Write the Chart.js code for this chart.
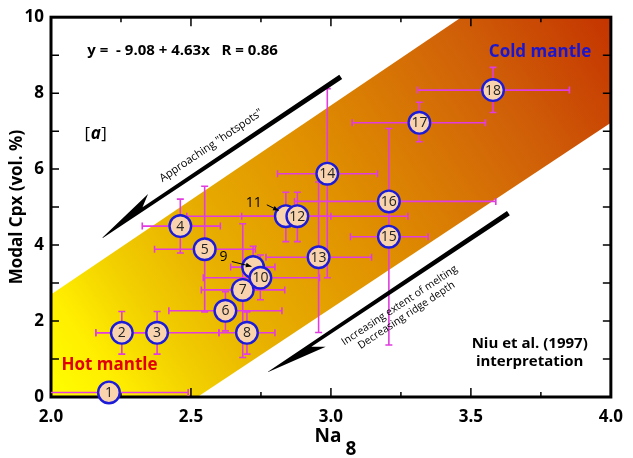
<!DOCTYPE html>
<html>
<head>
<meta charset="utf-8">
<script src="https://cdn.jsdelivr.net/npm/chart.js@4.4.0/dist/chart.umd.min.js"></script>
<style>
  html, body { margin: 0; padding: 0; background: #fff; }
</style>
</head>
<body>
<canvas id="chart" width="633" height="458"></canvas>
<script>
// sample numbers (9 and 11 are labelled outside their circles)
const sampleLabels = ['1', '2', '3', '4', '5', '6', '7', '8', '', '10', '', '12', '13', '14', '15', '16', '17', '18'];
const na8 = [2.207, 2.253, 2.379, 2.462, 2.549, 2.623, 2.685, 2.700, 2.722, 2.748, 2.839, 2.880, 2.956, 2.987, 3.207, 3.207, 3.316, 3.579];
const cpx = [0.12, 1.69, 1.69, 4.50, 3.89, 2.27, 2.82, 1.69, 3.42, 3.14, 4.76, 4.76, 3.68, 5.88, 4.22, 5.15, 7.22, 8.08];
const na8Min = [1.92, 2.16, 2.16, 2.326, 2.37, 2.421, 2.537, 2.60, 2.642, 2.544, 2.681, 2.485, 2.768, 2.809, 3.070, 2.870, 3.076, 3.310];
const na8Max = [2.49, 2.35, 2.60, 2.605, 2.73, 2.825, 2.835, 2.80, 2.800, 2.959, 3.000, 3.275, 3.145, 3.166, 3.347, 3.589, 3.552, 3.852];
const cpxMin = [null, 1.13, 1.13, 3.79, 2.24, 1.74, 1.04, 1.13, 2.88, 2.56, 4.09, 4.09, 1.70, 3.14, 1.37, 4.95, 6.72, 7.49];
const cpxMax = [null, 2.25, 2.25, 5.21, 5.55, 2.77, 4.56, 2.24, 3.97, 3.74, 5.39, 5.39, 5.66, 8.12, 7.07, 5.35, 7.76, 8.68];

// shaded band edges
const bandLowX = [2.0, 2.523, 4.0];
const bandLowY = [0, 0, 7.22];
const bandHighX = [2.0, 3.466, 4.0];
const bandHighY = [2.70, 10, 10];

// axes
const xTickLabels = [2.0, 2.5, 3.0, 3.5, 4.0];
const xMinorTicks = [2.25, 2.75, 3.25, 3.75];
const yTickLabels = [0, 2, 4, 6, 8, 10];
const yMinorTicks = [1, 3, 5, 7, 9];

// big arrows: tail, tip, barb side
const arrowTail = [[3.035, 8.43], [3.634, 4.84]];
const arrowTip = [[2.184, 4.20], [2.776, 0.655]];
const arrowSide = [1, -1];

// callouts for 9 and 11
const calloutText = ['9', '11'];
const calloutPos = [[2.616, 3.68], [2.724, 5.12]];
const calloutFrom = [[2.646, 3.567], [2.771, 5.06]];
const calloutTo = [[2.716, 3.438], [2.813, 4.91]];

const FONT = "'Open Sans', 'DejaVu Sans', sans-serif";
const barColor = '#e03ce0';

const toPts = (xs, ys) => xs.map((x, i) => ({ x, y: ys[i] }));

function px(chart, x, y) {
  return [chart.scales.x.getPixelForValue(x), chart.scales.y.getPixelForValue(y)];
}

function bandGradient(ctx) {
  const a = ctx.chart.chartArea;
  if (!a) return '#e0a000';
  const g = ctx.chart.ctx.createLinearGradient(a.left, a.bottom, a.right, a.top);
  g.addColorStop(0, '#ffff00');
  g.addColorStop(0.09, '#ffee00');
  g.addColorStop(0.185, '#f2d000');
  g.addColorStop(0.31, '#e8b000');
  g.addColorStop(0.52, '#e09000');
  g.addColorStop(0.795, '#d06008');
  g.addColorStop(1, '#c43400');
  return g;
}

const framePlugin = {
  id: 'frame',
  afterDatasetDraw(chart, args) {
    if (args.index !== 1) return;
    const { ctx, chartArea: a } = chart;
    const sx = chart.scales.x, sy = chart.scales.y;
    ctx.save();
    ctx.strokeStyle = '#000';
    ctx.lineWidth = 1.5;
    ctx.beginPath();
    const xt = (v, len) => {
      const p = sx.getPixelForValue(v);
      ctx.moveTo(p, a.bottom); ctx.lineTo(p, a.bottom - len);
      ctx.moveTo(p, a.top); ctx.lineTo(p, a.top + len);
    };
    const yt = (v, len) => {
      const p = sy.getPixelForValue(v);
      ctx.moveTo(a.left, p); ctx.lineTo(a.left + len, p);
      ctx.moveTo(a.right, p); ctx.lineTo(a.right - len, p);
    };
    xTickLabels.forEach(v => xt(v, 9));
    xMinorTicks.forEach(v => xt(v, 5));
    yTickLabels.forEach(v => yt(v, 8));
    yMinorTicks.forEach(v => yt(v, 8));
    ctx.stroke();
    ctx.lineWidth = 3;
    ctx.strokeRect(a.left, a.top, a.width, a.height);
    ctx.restore();
  }
};

const errorBarPlugin = {
  id: 'errorBars',
  beforeDatasetDraw(chart, args) {
    if (args.index !== 0) return;
    const { ctx, chartArea: a } = chart;
    const cap = 3.5;
    ctx.save();
    ctx.beginPath();
    ctx.rect(a.left, a.top, a.width, a.height);
    ctx.clip();
    ctx.strokeStyle = barColor;
    ctx.lineWidth = 1.6;
    na8.forEach((x, i) => {
      const [cx, cy] = px(chart, x, cpx[i]);
      ctx.beginPath();
      const x0 = chart.scales.x.getPixelForValue(na8Min[i]);
      const x1 = chart.scales.x.getPixelForValue(na8Max[i]);
      ctx.moveTo(x0, cy); ctx.lineTo(x1, cy);
      ctx.moveTo(x0, cy - cap); ctx.lineTo(x0, cy + cap);
      ctx.moveTo(x1, cy - cap); ctx.lineTo(x1, cy + cap);
      if (cpxMin[i] != null) {
        const y0 = chart.scales.y.getPixelForValue(cpxMin[i]);
        const y1 = chart.scales.y.getPixelForValue(cpxMax[i]);
        ctx.moveTo(cx, y0); ctx.lineTo(cx, y1);
        ctx.moveTo(cx - cap, y0); ctx.lineTo(cx + cap, y0);
        ctx.moveTo(cx - cap, y1); ctx.lineTo(cx + cap, y1);
      }
      ctx.stroke();
    });
    ctx.restore();
  }
};

function drawBigArrow(ctx, tail, tip, side) {
  const dx = tail[0] - tip[0], dy = tail[1] - tip[1];
  const len = Math.hypot(dx, dy);
  const bx = dx / len, by = dy / len;     // back along shaft
  const nx = by, ny = -bx;                // normal, upper-left side
  const w = 2.6;
  const at = (along, perp) => [tip[0] + bx * along + nx * perp * side, tip[1] + by * along + ny * perp * side];
  ctx.beginPath();
  ctx.moveTo(...at(0, 0));
  ctx.lineTo(...at(62, 10.5));
  ctx.lineTo(...at(50, w));
  ctx.lineTo(...at(len, w));
  ctx.lineTo(...at(len, -w));
  ctx.lineTo(...at(0, -0.5));
  ctx.closePath();
  ctx.fill();
  return Math.atan2(dy, dx);
}

function rotatedText(ctx, text, x, y, angle, font) {
  ctx.save();
  ctx.translate(x, y);
  ctx.rotate(angle);
  ctx.font = font;
  ctx.textAlign = 'center';
  ctx.textBaseline = 'middle';
  ctx.fillText(text, 0, 0);
  ctx.restore();
}

const annotationPlugin = {
  id: 'annotations',
  afterDatasetsDraw(chart) {
    const { ctx, chartArea: a } = chart;
    ctx.save();

    // numbers inside circles
    ctx.fillStyle = '#222';
    ctx.font = '14px ' + FONT;
    ctx.textAlign = 'center';
    ctx.textBaseline = 'middle';
    na8.forEach((x, i) => {
      if (!sampleLabels[i]) return;
      const [cx, cy] = px(chart, x, cpx[i]);
      ctx.fillText(sampleLabels[i], cx, cy + 0.5, 17);
    });

    // callouts
    ctx.font = '14px ' + FONT;
    ctx.strokeStyle = '#000';
    ctx.fillStyle = '#000';
    ctx.lineWidth = 1;
    calloutText.forEach((t, i) => {
      const [tx, ty] = px(chart, calloutPos[i][0], calloutPos[i][1]);
      ctx.fillText(t, tx, ty);
      const [fx, fy] = px(chart, calloutFrom[i][0], calloutFrom[i][1]);
      const [ex, ey] = px(chart, calloutTo[i][0], calloutTo[i][1]);
      ctx.beginPath(); ctx.moveTo(fx, fy); ctx.lineTo(ex, ey); ctx.stroke();
      const ang = Math.atan2(ey - fy, ex - fx);
      ctx.beginPath();
      ctx.moveTo(ex, ey);
      ctx.lineTo(ex - 6 * Math.cos(ang - 0.4), ey - 6 * Math.sin(ang - 0.4));
      ctx.lineTo(ex - 6 * Math.cos(ang + 0.4), ey - 6 * Math.sin(ang + 0.4));
      ctx.closePath(); ctx.fill();
    });

    // big arrows and their texts
    ctx.fillStyle = '#000';
    const angles = arrowTail.map((t, i) =>
      drawBigArrow(ctx, px(chart, t[0], t[1]), px(chart, arrowTip[i][0], arrowTip[i][1]), arrowSide[i]));
    let p = px(chart, 2.572, 6.62);
    rotatedText(ctx, 'Approaching "hotspots"', p[0], p[1], angles[0], '11px ' + FONT);
    p = px(chart, 3.245, 2.41);
    rotatedText(ctx, 'Increasing extent of melting', p[0], p[1], angles[1], '10.5px ' + FONT);
    p = px(chart, 3.27, 2.15);
    rotatedText(ctx, 'Decreasing ridge depth', p[0], p[1], angles[1], '10.5px ' + FONT);

    // labels
    ctx.textAlign = 'center';
    ctx.textBaseline = 'middle';
    ctx.fillStyle = '#000';
    ctx.font = 'bold 15px ' + FONT;
    p = px(chart, 2.470, 9.12);
    ctx.fillText('y =  - 9.08 + 4.63x   R = 0.86', p[0], p[1], 200);

    p = px(chart, 3.71, 1.39);
    ctx.fillText('Niu et al. (1997)', p[0], p[1]);
    p = px(chart, 3.71, 0.92);
    ctx.fillText('interpretation', p[0], p[1]);

    ctx.font = 'bold 17px ' + FONT;
    ctx.fillStyle = '#e00000';
    p = px(chart, 2.209, 0.83);
    ctx.fillText('Hot mantle', p[0], p[1], 98);
    ctx.fillStyle = '#1a16d0';
    p = px(chart, 3.747, 9.09);
    ctx.fillText('Cold mantle', p[0], p[1], 108);

    // [a]
    ctx.fillStyle = '#000';
    p = px(chart, 2.158, 6.92);
    ctx.textAlign = 'left';
    ctx.font = '17px ' + FONT;
    const bw = ctx.measureText('[').width;
    ctx.font = 'italic bold 17px ' + FONT;
    const aw = ctx.measureText('a').width;
    const x0 = p[0] - (2 * bw + aw) / 2;
    ctx.font = '17px ' + FONT;
    ctx.fillText('[', x0, p[1]);
    ctx.fillText(']', x0 + bw + aw + 1, p[1]);
    ctx.font = 'italic bold 17px ' + FONT;
    ctx.fillText('a', x0 + bw + 0.5, p[1]);

    // x-axis title with subscript
    ctx.font = 'bold 19px ' + FONT;
    ctx.textAlign = 'center';
    const cxT = (a.left + a.right) / 2;
    ctx.fillText('Na', cxT - 3, 437);
    ctx.fillText('8', cxT + 20, 450);
    ctx.restore();
  }
};

new Chart(document.getElementById('chart'), {
  type: 'scatter',
  data: {
    datasets: [
      {
        data: toPts(na8, cpx),
        pointRadius: 10.8,
        pointHoverRadius: 10.8,
        pointBackgroundColor: '#f9d3ae',
        pointBorderColor: '#1c1cd8',
        pointBorderWidth: 2.4,
        clip: false
      },
      {
        type: 'line',
        data: toPts(bandLowX, bandLowY),
        showLine: true,
        borderWidth: 0,
        pointRadius: 0,
        fill: false
      },
      {
        type: 'line',
        data: toPts(bandHighX, bandHighY),
        showLine: true,
        borderWidth: 0,
        pointRadius: 0,
        fill: 1,
        backgroundColor: bandGradient
      }
    ]
  },
  options: {
    responsive: false,
    animation: false,
    events: [],
    layout: { padding: { top: 11, right: 11, left: 0, bottom: 0 } },
    plugins: { legend: { display: false }, tooltip: { enabled: false } },
    scales: {
      x: {
        type: 'linear', min: 2, max: 4,
        afterBuildTicks: s => { s.ticks = xTickLabels.map(v => ({ value: v })); },
        afterFit: s => { s.height = 61; },
        grid: { display: false, drawTicks: false },
        border: { display: false },
        ticks: {
          padding: 10, color: '#000',
          font: { family: FONT, size: 17, weight: 'bold' },
          callback: v => v.toFixed(1)
        }
      },
      y: {
        type: 'linear', min: 0, max: 10,
        afterBuildTicks: s => { s.ticks = yTickLabels.map(v => ({ value: v })); },
        afterFit: s => { s.width = 51; },
        grid: { display: false, drawTicks: false },
        border: { display: false },
        ticks: {
          padding: 7, color: '#000',
          font: { family: FONT, size: 17, weight: 'bold' }
        },
        title: {
          display: true, text: 'Modal Cpx (vol. %)', color: '#000',
          padding: { top: 7, bottom: 0 },
          font: { family: FONT, size: 17, weight: 'bold' }
        }
      }
    }
  },
  plugins: [framePlugin, errorBarPlugin, annotationPlugin]
});
</script>
</body>
</html>
